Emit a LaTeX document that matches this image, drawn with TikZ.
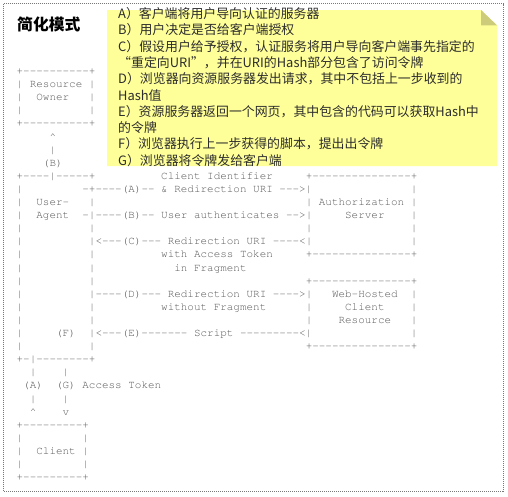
\documentclass[tikz,border=0pt]{standalone}
\usepackage[T1]{fontenc}
\usepackage{fontspec}
\newfontfamily\cjk{Noto Sans CJK SC}

\definecolor{notefill}{RGB}{255,255,153}
\definecolor{noteflap}{RGB}{204,204,122}
\definecolor{asciigray}{RGB}{85,85,85}
\definecolor{notetext}{RGB}{45,45,45}
\definecolor{framegray}{RGB}{120,120,120}

% one column of the ascii flow
\newlength\cw
\setlength\cw{6.57pt}
\newcommand\colskip[1]{\hspace*{#1\cw}}
% n dashes, kept apart so that they do not join
\newcommand\dsh[1]{\count255=#1\relax\loop -\kern0pt\advance\count255 by -1\relax\ifnum\count255>0 \repeat}
\newcommand\asciifont{\fontencoding{T1}\fontfamily{pcr}\fontseries{m}\fontshape{n}\fontsize{10.95}{13.1}\selectfont\spaceskip=\cw\xspaceskip=\cw}
\newcommand\caret{\textasciicircum}

\tikzset{
  asc/.style={anchor=base west, inner sep=0pt, outer sep=0pt, text=asciigray, font=\asciifont},
  noteline/.style={anchor=base west, inner sep=0pt, text=notetext, font=\cjk\fontsize{12.9}{16}\selectfont},
  titletext/.style={anchor=base west, inner sep=0pt, text=black, font=\cjk\bfseries\fontsize{15.8}{18}\selectfont}
}

\begin{document}
\begin{tikzpicture}[x=1pt,y=-1pt]
  \useasboundingbox (0,0) rectangle (508,496);
  % frame
  \draw[framegray, line width=1pt, dash pattern=on 1pt off 1pt] (3.5,3.5) rectangle (503,491);
  % title
  \node[titletext] (title) at (17,30.6) {简化模式};
  % note with folded corner
  \fill[notefill] (107,10) -- (481,10) -- (497,25.3) -- (497,166) -- (107,166) -- cycle;
  \fill[noteflap] (481,10) -- (481,25.3) -- (497,25.3) -- cycle;
  \node[noteline] (nA) at (118,18.5) {A）客户端将用户导向认证的服务器};
  \node[noteline] (nB) at (118,34.8) {B）用户决定是否给客户端授权};
  \node[noteline] (nC) at (118,51.1) {C）假设用户给予授权，认证服务将用户导向客户端事先指定的};
  \node[noteline] (nC2) at (118,67.4) {“重定向URI”，并在URI的Hash部分包含了访问令牌};
  \node[noteline] (nD) at (118,83.7) {D）浏览器向资源服务器发出请求，其中不包括上一步收到的};
  \node[noteline] (nD2) at (118,100) {Hash值};
  \node[noteline] (nE) at (118,116.3) {E）资源服务器返回一个网页，其中包含的代码可以获取Hash中};
  \node[noteline] (nE2) at (118,132.6) {的令牌};
  \node[noteline] (nF) at (118,148.9) {F）浏览器执行上一步获得的脚本，提出出令牌};
  \node[noteline] (nG) at (118,165.2) {G）浏览器将令牌发给客户端};
  % ascii flow, (column,row)
  \begin{scope}[x=6.57pt,y=-13.1pt,shift={(10.1pt,-61.4pt)}]
    \node[asc] (r1) at (1,1) {+\dsh{10}+};
    \node[asc] (r2) at (1,2) {| Resource |};
    \node[asc] (r3) at (1,3) {|\colskip{2}Owner\colskip{3}|};
    \node[asc] (r4) at (1,4) {|\colskip{10}|};
    \node[asc] (r5) at (1,5) {+\dsh{10}+};
    \node[asc] (r6) at (6,6) {\caret};
    \node[asc] (r7) at (6,7) {|};
    \node[asc] (r8) at (5,8) {(B)};
    \node[asc] (r9) at (1,9) {+\dsh{4}|\dsh{5}+\colskip{10}Client Identifier\colskip{5}+\dsh{15}+};
    \node[asc] (r10) at (1,10) {|\colskip{9}-+\dsh{4}(A)\dsh{2} \& Redirection URI \dsh{3}>|\colskip{15}|};
    \node[asc] (r11) at (1,11) {|\colskip{2}User-\colskip{3}|\colskip{32}| Authorization |};
    \node[asc] (r12) at (1,12) {|\colskip{2}Agent\colskip{2}-|\dsh{4}(B)\dsh{2} User authenticates \dsh{2}>|\colskip{5}Server\colskip{4}|};
    \node[asc] (r13) at (1,13) {|\colskip{10}|\colskip{32}|\colskip{15}|};
    \node[asc] (r14) at (1,14) {|\colskip{10}|<\dsh{3}(C)\dsh{3} Redirection URI \dsh{4}<|\colskip{15}|};
    \node[asc] (r15) at (1,15) {|\colskip{10}|\colskip{10}with Access Token\colskip{5}+\dsh{15}+};
    \node[asc] (r16) at (1,16) {|\colskip{10}|\colskip{12}in Fragment};
    \node[asc] (r17) at (1,17) {|\colskip{10}|\colskip{32}+\dsh{15}+};
    \node[asc] (r18) at (1,18) {|\colskip{10}|\dsh{4}(D)\dsh{3} Redirection URI \dsh{4}>|\colskip{3}Web-Hosted\colskip{2}|};
    \node[asc] (r19) at (1,19) {|\colskip{10}|\colskip{10}without Fragment\colskip{6}|\colskip{5}Client\colskip{4}|};
    \node[asc] (r20) at (1,20) {|\colskip{10}|\colskip{32}|\colskip{4}Resource\colskip{3}|};
    \node[asc] (r21) at (1,21) {|\colskip{5}(F)\colskip{2}|<\dsh{3}(E)\dsh{7} Script \dsh{9}<|\colskip{15}|};
    \node[asc] (r22) at (1,22) {|\colskip{10}|\colskip{32}+\dsh{15}+};
    \node[asc] (r23) at (1,23) {+-|\dsh{8}+};
    \node[asc] (r24) at (3,24) {|\colskip{4}|};
    \node[asc] (r25) at (2,25) {(A)\colskip{2}(G) Access Token};
    \node[asc] (r26) at (3,26) {|\colskip{4}|};
    \node[asc] (r27) at (3,27) {\caret\colskip{4}v};
    \node[asc] (r28) at (1,28) {+\dsh{9}+};
    \node[asc] (r29) at (1,29) {|\colskip{9}|};
    \node[asc] (r30) at (1,30) {|\colskip{2}Client |};
    \node[asc] (r31) at (1,31) {|\colskip{9}|};
    \node[asc] (r32) at (1,32) {+\dsh{9}+};
  \end{scope}
\end{tikzpicture}
\end{document}
